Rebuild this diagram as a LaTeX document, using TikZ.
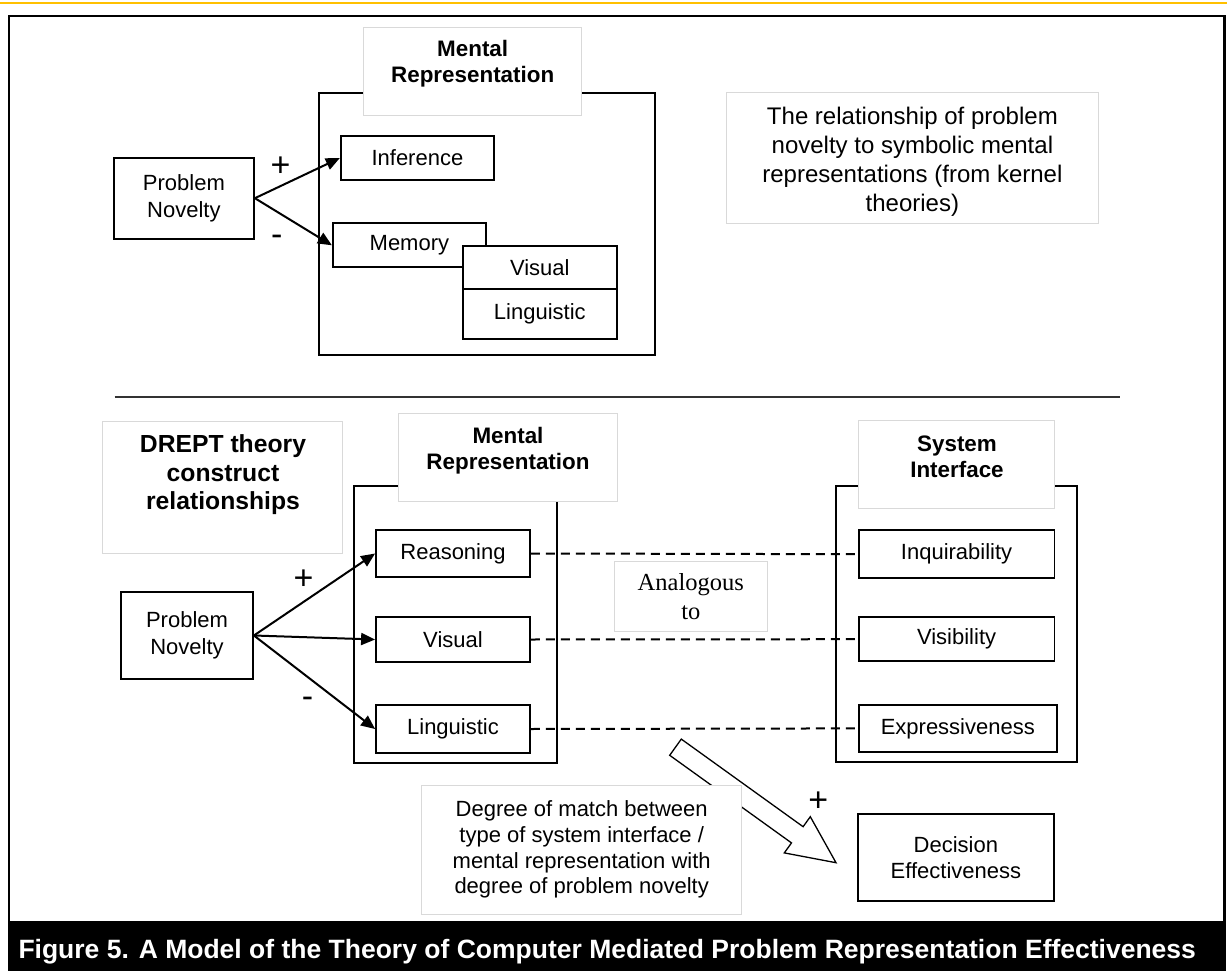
\documentclass[tikz,border=0pt]{standalone}
\usepackage{fontspec}
\setmainfont{Liberation Sans}
\newfontfamily\timesface{Liberation Serif}
\usetikzlibrary{arrows.meta}
\definecolor{goldline}{RGB}{255,192,0}
\definecolor{paleframe}{RGB}{217,217,217}

\begin{document}
\begin{tikzpicture}[x=1pt,y=-1pt,
	conbox/.style={draw,line width=1.8pt,fill=white,inner sep=0pt,align=center,font=\fontsize{22}{26.4}\selectfont},
	holder/.style={draw,line width=2pt,inner sep=0pt},
	pale/.style={draw=paleframe,line width=1pt,fill=white,inner sep=0pt},
	headtxt/.style={align=center,inner sep=0pt,font=\bfseries\fontsize{22.4}{26.5}\selectfont},
	arr/.style={-{Triangle[length=14pt,width=12pt]},line width=2pt},
	analogy/.style={dash pattern=on 9pt off 6pt,line width=2pt},
	sign/.style={inner sep=0pt,font=\fontsize{34}{36}\selectfont}]
	
	\useasboundingbox (0,0) rectangle (1227,971);
	
	%--- PAGE FRAME -------------------------
	
	\draw [goldline,line width=2.4pt] (0,3) -- (1227,3);
	\draw [line width=2.5pt] (9,16) rectangle (1224.7,930);
	
	%--- TOP MODEL --------------------------
	
	% Container and header
	\node [holder,minimum width=336.2pt,minimum height=262.3pt] (MR1) at (486.7,223.9) {};
	\node [pale,minimum width=218.2pt,minimum height=87.7pt] (MRH1) at (472.7,71.2) {};
	\node [headtxt] (MRT1) at (472.7,63.5) {Mental\\Representation};
	
	% Inner boxes
	\node [conbox,minimum width=153.3pt,minimum height=44.6pt] (INF) at (417.4,158) {Inference};
	\node [conbox,minimum width=153.2pt,minimum height=44pt] (MEM) at (409.4,245.3) {Memory};
	\node [conbox,minimum width=153.6pt,minimum height=43.6pt] (VIS1) at (539.8,267.5) {Visual};
	\node [conbox,minimum width=153.6pt,minimum height=49.7pt] (LIN1) at (539.8,314.2) {Linguistic};
	
	% Problem novelty and arrows
	\node [conbox,minimum width=140.2pt,minimum height=81pt] (PN1) at (183.9,198.2) {Problem\\Novelty};
	\draw [arr] (PN1.east) -- (INF.west);
	\draw [arr] (PN1.east) -- (MEM.west);
	\node [sign] (PLUS1) at (280.6,166.7) {+};
	\node [sign] (MINUS1) at (276.7,240) {-};
	
	% Note
	\node [pale,minimum width=372pt,minimum height=130.6pt] (REL) at (912.4,158) {};
	\node [align=center,inner sep=0pt,font=\fontsize{24}{29}\selectfont] (RELT) at (912.4,162)
	{The relationship of problem\\novelty to symbolic mental\\representations (from kernel\\theories)};
	
	% Separator
	\coordinate (S1) at (114.6,397);
	\coordinate (S2) at (1120,397);
	\draw [line width=2.3pt,black!80] (S1) -- (S2);
	
	%--- BOTTOM MODEL -----------------------
	
	% DREPT note
	\node [pale,minimum width=239.2pt,minimum height=131.3pt] (DRB) at (222.4,487.4) {};
	\node [align=center,inner sep=0pt,font=\bfseries\fontsize{24.7}{28.5}\selectfont] (DRT) at (223,475) {DREPT theory\\construct\\relationships};
	
	% Mental representation
	\node [holder,minimum width=203pt,minimum height=277pt] (MR2) at (455.5,624.5) {};
	\node [pale,minimum width=219pt,minimum height=87.7pt] (MRH2) at (507.5,457.2) {};
	\node [headtxt] (MRT2) at (508,450.5) {Mental\\Representation};
	\node [conbox,minimum width=154pt,minimum height=47pt] (REA) at (453,553.5) {Reasoning};
	\node [conbox,minimum width=154pt,minimum height=45pt] (VIS2) at (453,639.5) {Visual};
	\node [conbox,minimum width=154pt,minimum height=48pt] (LIN2) at (453,729) {Linguistic};
	
	% System interface
	\node [holder,minimum width=240.8pt,minimum height=276.3pt] (SI) at (956.4,624.2) {};
	\node [pale,minimum width=195.6pt,minimum height=87.3pt] (SIH) at (956.6,464.4) {};
	\node [headtxt] (SIT) at (957,457) {System\\Interface};
	\node [conbox,minimum width=195.6pt,minimum height=48.3pt] (INQ) at (956.6,554.2) {Inquirability};
	\node [conbox,minimum width=195.6pt,minimum height=43.7pt] (VSB) at (956.6,639.2) {Visibility};
	\node [conbox,minimum width=198pt,minimum height=46.7pt] (EXP) at (957.8,728.4) {Expressiveness};
	
	% Dashed analogies
	\draw [analogy] (REA.east) -- (INQ.west);
	\draw [analogy] (VIS2.east) -- (VSB.west);
	\draw [analogy] (LIN2.east) -- (EXP.west);
	\node [pale,minimum width=152.8pt,minimum height=69.3pt,align=center,font=\timesface\fontsize{24.5}{28.7}\selectfont] (ANA) at (690.8,596.4) {Analogous\\to};
	
	% Problem novelty and arrows
	\node [conbox,minimum width=132pt,minimum height=87pt] (PN2) at (187,635.5) {Problem\\Novelty};
	\draw [arr] (PN2.east) -- (REA.west);
	\draw [arr] (PN2.east) -- (VIS2.west);
	\draw [arr] (PN2.east) -- (LIN2.west);
	\node [sign] (PLUS2) at (303.6,580) {+};
	\node [sign] (MINUS2) at (307.5,702) {-};
	
	%--- MATCH AND OUTCOME ------------------
	
	% Big hollow arrow
	\draw [line width=1.3pt,fill=white] (669.7,755.3) -- (791.5,842.9) -- (784.3,852.9) -- (836,862.7) -- (810.3,816.7) -- (803.1,826.7) -- (681.3,739.1) -- cycle;
	\node [sign] (PLUS3) at (818.3,801.7) {+};
	
	\node [conbox,minimum width=196.3pt,minimum height=86.7pt] (DEC) at (955.9,857.7) {Decision\\Effectiveness};
	\node [pale,minimum width=320pt,minimum height=129pt,align=center,font=\fontsize{22}{25.8}\selectfont] (DEG) at (581.7,849.5)
	{Degree of match between\\type of system interface /\\mental representation with\\degree of problem novelty};
	
	%--- CAPTION BAR ------------------------
	
	\fill (8,921) rectangle (1226,971);
	\node [anchor=base west,inner sep=0pt,text=white,font=\bfseries\fontsize{26.5}{30}\selectfont] (CAP) at (18.3,958.3)
	{Figure 5. A Model of the Theory of Computer Mediated Problem Representation Effectiveness};
	
\end{tikzpicture}
\end{document}
